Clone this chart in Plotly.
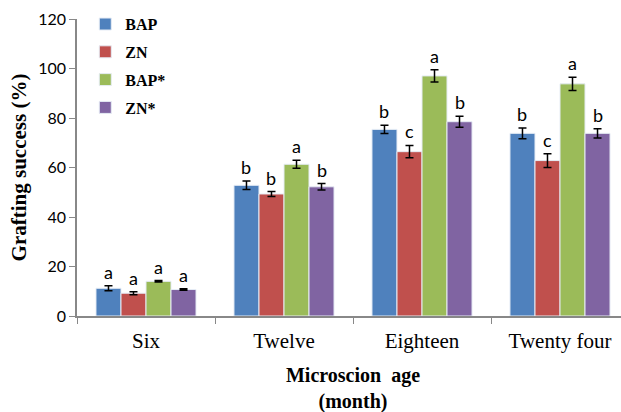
import plotly.graph_objects as go

categories = ["Six", "Twelve", "Eighteen", "Twenty four"]
series_names = ["BAP", "ZN", "BAP*", "ZN*"]
bap = [11.2, 52.8, 75.4, 73.8]
zn = [9.2, 49.3, 66.4, 62.8]
bap_s = [14.0, 61.3, 97.0, 93.8]
zn_s = [10.7, 52.2, 78.5, 73.8]
bap_err = [1.0, 1.7, 1.7, 2.2]
zn_err = [0.6, 1.0, 2.5, 2.8]
bap_s_err = [0.3, 1.6, 2.5, 2.7]
zn_s_err = [0.3, 1.3, 2.2, 1.9]
letters = [
    ["a", "b", "b", "b"],
    ["a", "b", "c", "c"],
    ["a", "a", "a", "a"],
    ["a", "b", "b", "b"],
]
colors = ["#4F81BD", "#C0504D", "#9BBB59", "#8064A2"]

values = [bap, zn, bap_s, zn_s]
errors = [bap_err, zn_err, bap_s_err, zn_s_err]

bargap = 0.275
fig = go.Figure()
for i, name in enumerate(series_names):
    fig.add_trace(go.Bar(
        x=categories, y=values[i], name=name,
        marker=dict(color=colors[i], line=dict(color="#E6ECF5", width=1)),
        error_y=dict(type="data", array=errors[i], color="black", thickness=1.5, width=4),
        legendgroup=name,
    ))

group_w = 1 - bargap
bw = group_w / 4
annotations = []
for i in range(4):
    for j in range(4):
        xpos = j - group_w / 2 + (i + 0.5) * bw
        annotations.append(dict(
            x=xpos, y=values[i][j] + errors[i][j], xref="x", yref="y",
            text=letters[i][j], showarrow=False, yanchor="bottom", yshift=1,
            font=dict(family="Lato, Liberation Sans, sans-serif", size=18, color="black"),
        ))

fig.update_layout(
    width=629, height=420,
    margin=dict(l=77, r=0, t=19, b=104),
    plot_bgcolor="white", paper_bgcolor="white",
    barmode="group", bargap=bargap, bargroupgap=0,
    showlegend=True,
    legend=dict(x=0.015, y=1.04, xanchor="left", yanchor="top",
                font=dict(family="Liberation Serif, serif", size=16, color="black", weight="bold"),
                tracegroupgap=4, bgcolor="rgba(0,0,0,0)"),
    annotations=annotations,
)
fig.update_xaxes(
    range=[-0.5, 3.5], showline=True, linecolor="#888888", linewidth=1.5,
    ticks="outside", tickson="boundaries", ticklen=6, tickcolor="#888888",
    tickfont=dict(family="Liberation Serif, serif", size=21, color="black"),
    ticklabelstandoff=5,
    title=dict(text="Microscion  age<br>(month)", standoff=16,
               font=dict(family="Liberation Serif, serif", size=20, color="black", weight="bold")),
    showgrid=False,
)
fig.update_yaxes(
    range=[0, 120], dtick=20, showline=True, linecolor="#888888", linewidth=1.5,
    ticks="outside", ticklen=6, tickcolor="#888888",
    tickfont=dict(family="Lato, Liberation Sans, sans-serif", size=16, color="black"),
    title=dict(text="Grafting success (%)", standoff=6,
               font=dict(family="Liberation Serif, serif", size=21, color="black", weight="bold")),
    showgrid=False, zeroline=False,
)
fig.write_html("out.html", config={"displayModeBar": False},
               post_script="document.body.style.margin='0';document.body.style.overflow='hidden';")
